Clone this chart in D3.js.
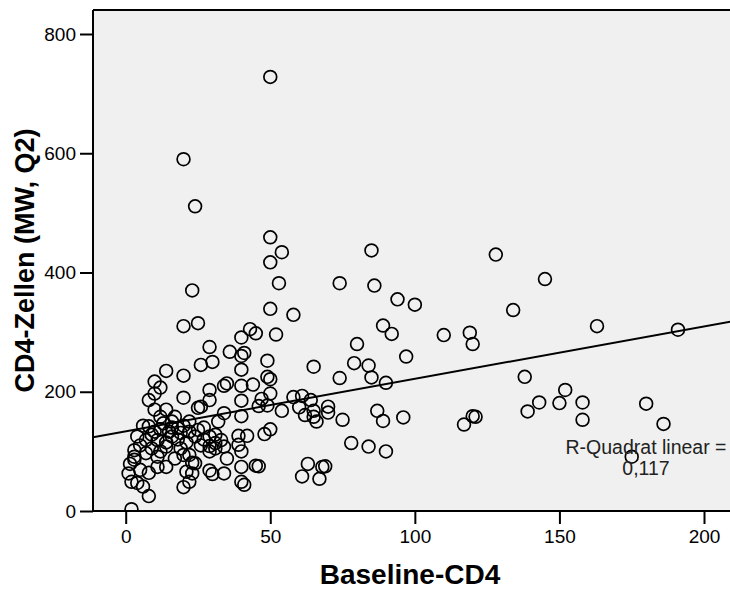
<!DOCTYPE html>
<html>
<head>
<meta charset="utf-8">
<script src="https://cdn.jsdelivr.net/npm/d3@7"></script>
<style>
  html, body { margin: 0; padding: 0; background: #ffffff; }
  svg { display: block; }
  text { font-family: Arial, "Liberation Sans", sans-serif; }
</style>
</head>
<body>
<svg id="chart" width="730" height="590"></svg>
<script>
// ---- data ----
const baseline = [
  50,20,24,23,20,25,29,30,26,36,
  50,54,50,53,74,50,58,43,45,52,
  40,41,40,49,65,40,49,50,74,35,
  44,40,50,47,40,58,61,64,46,49,
  54,60,62,65,70,70,66,65,75,40,
  34,78,50,48,42,39,39,35,40,45,
  46,63,68,69,61,67,40,41,85,128,
  145,86,94,100,134,89,92,80,110,119,
  120,97,79,84,85,90,138,87,89,96,
  117,120,121,139,143,84,90,163,191,152,
  150,158,158,180,186,175,14,20,10,12,
  8,20,34,29,29,25,26,14,10,12,
  17,6,8,20,32,4,10,12,15,18,
  19,22,25,24,16,11,7,29,31,29,
  31,34,40,29,3,3,7,11,14,17,
  20,22,23,1.5,5,8,11,14,21,23,
  29,30,34,2,4,6,20,22,8,2,
  33,31,3,1,10,24,13,16,18,21,
  14,9,12,19,5,16,22,27,26,9,27
];
const cd4 = [
  728,590,511,370,310,315,275,250,245,267,
  459,434,417,382,382,339,329,305,298,296,
  291,265,260,252,242,237,225,221,223,214,
  212,210,197,188,185,191,193,186,176,177,
  168,174,161,168,175,165,150,158,153,159,
  164,114,137,129,126,126,111,88,74,76,
  75,79,74,75,58,54,49,44,437,430,
  389,378,355,346,337,311,297,280,295,299,
  280,259,248,244,224,215,225,168,151,157,
  145,159,158,167,182,108,100,310,304,203,
  181,182,153,180,146,91,235,227,217,207,
  186,190,210,203,186,173,175,170,170,158,
  158,143,142,143,150,125,133,137,133,139,
  131,133,136,125,125,119,119,125,128,109,
  114,108,100,100,102,91,97,91,108,88,
  94,94,81,79,69,64,74,74,66,63,
  68,62,63,49,47,41,40,49,25,3,
  119,105,86,63,197,80,147,150,120,115,
  115,105,100,105,110,140,150,120,110,128,140
];
const xTicks = [0, 50, 100, 150, 200];
const yTicks = [0, 200, 400, 600, 800];
const fitIntercept = 133.6;   // linear fit line
const fitSlope = 0.88;
const rSquaredLabel = ["R-Quadrat linear =", "0,117"];
const xTitle = "Baseline-CD4";
const yTitle = "CD4-Zellen (MW, Q2)";

// ---- layout ----
const svg = d3.select("#chart");
const x = d3.scaleLinear().domain([0, 200]).range([125.7, 704]);
const y = d3.scaleLinear().domain([0, 800]).range([511, 34]);
const xMin = x.invert(93), xMax = x.invert(760);
const yMin = 0, yMax = y.invert(10);

// plot background
svg.append("rect")
  .attr("x", x(xMin)).attr("y", y(yMax))
  .attr("width", x(xMax) - x(xMin)).attr("height", y(yMin) - y(yMax))
  .attr("fill", "#f0f0f0");

// clip
svg.append("clipPath").attr("id", "plotclip").append("rect")
  .attr("x", x(xMin)).attr("y", y(yMax))
  .attr("width", x(xMax) - x(xMin)).attr("height", y(yMin) - y(yMax));

const plot = svg.append("g").attr("clip-path", "url(#plotclip)");

// fit line
plot.append("line")
  .attr("x1", x(xMin)).attr("y1", y(fitIntercept + fitSlope * xMin))
  .attr("x2", x(xMax)).attr("y2", y(fitIntercept + fitSlope * xMax))
  .attr("stroke", "#000").attr("stroke-width", 2);

// points
const pts = baseline.map((b, i) => ({ b, c: cd4[i] }));
plot.selectAll("circle.pt").data(pts).enter().append("circle")
  .attr("class", "pt")
  .attr("cx", d => x(d.b)).attr("cy", d => y(d.c))
  .attr("r", 6.4)
  .attr("fill", "none").attr("stroke", "#000").attr("stroke-width", 1.7);

// R² label
const rl = svg.append("text")
  .attr("x", 646).attr("y", 454)
  .attr("text-anchor", "middle")
  .attr("font-size", 19.5).attr("fill", "#222");
rSquaredLabel.forEach((t, i) => {
  rl.append("tspan").attr("x", 646).attr("dy", i === 0 ? 0 : 21).text(t);
});

// frame top
svg.append("line").attr("x1", x(xMin)).attr("x2", x(xMax))
  .attr("y1", y(yMax)).attr("y2", y(yMax)).attr("stroke", "#000").attr("stroke-width", 2);

// axes
const xAxis = svg.append("g").attr("transform", `translate(0,${y(0)})`)
  .call(d3.axisBottom(x).tickValues(xTicks).tickSize(13).tickSizeOuter(0).tickPadding(6));
const yAxis = svg.append("g").attr("transform", `translate(${x(xMin)},0)`)
  .call(d3.axisLeft(y).tickValues(yTicks).tickSize(13).tickSizeOuter(0).tickPadding(4));

[xAxis, yAxis].forEach(g => {
  g.select(".domain").attr("stroke", "#000").attr("stroke-width", 2);
  g.selectAll(".tick line").attr("stroke", "#000").attr("stroke-width", 2);
  g.selectAll(".tick text").attr("font-size", 19).attr("fill", "#000")
    .attr("font-family", "Arial, 'Liberation Sans', sans-serif");
});
xAxis.select(".domain").attr("d", `M${x(xMin)},0H${x(xMax)}`);
yAxis.select(".domain").attr("d", `M0,${y(yMax)}V${y(0)}`);

// titles
svg.append("text")
  .attr("x", 410).attr("y", 584)
  .attr("text-anchor", "middle")
  .attr("font-size", 28).attr("font-weight", "bold").attr("fill", "#000")
  .text(xTitle);
svg.append("text")
  .attr("transform", `translate(34,${(y(yMax) + y(0)) / 2}) rotate(-90)`)
  .attr("text-anchor", "middle")
  .attr("font-size", 27).attr("font-weight", "bold").attr("fill", "#000")
  .text(yTitle);
</script>
</body>
</html>
